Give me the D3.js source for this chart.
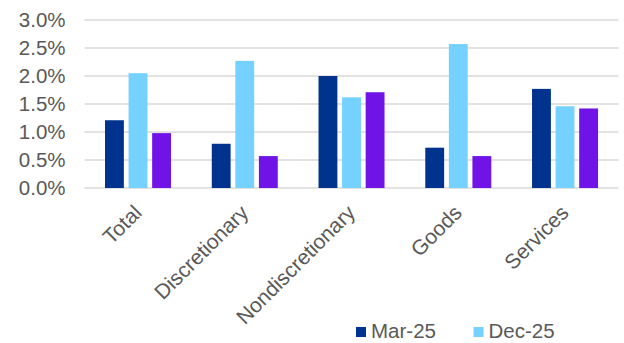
<!DOCTYPE html>
<html>
<head>
<meta charset="utf-8">
<script src="https://cdn.jsdelivr.net/npm/d3@7"></script>
<style>
  html, body { margin: 0; padding: 0; background: #fff; }
  svg { display: block; font-family: "Liberation Sans", Arial, sans-serif; }
</style>
</head>
<body>
<svg id="chart" width="624" height="343"></svg>
<script>
// Growth by spending category
const categories = ["Total", "Discretionary", "Nondiscretionary", "Goods", "Services"];
const seriesNames = ["Mar-25", "Dec-25", "Jun-26"];
const mar25 = [1.21, 0.79, 2.00, 0.72, 1.77];
const dec25 = [2.05, 2.27, 1.62, 2.57, 1.46];
const jun26 = [0.98, 0.57, 1.71, 0.57, 1.42];
const seriesColors = ["#00338d", "#75d1ff", "#7013e6"];
const yTicks = [0, 0.5, 1.0, 1.5, 2.0, 2.5, 3.0];
const legendNames = ["Mar-25", "Dec-25"];

const seriesValues = [mar25, dec25, jun26];
const rows = categories.map((c, i) => ({
  category: c,
  values: seriesNames.map((s, k) => ({ series: s, value: seriesValues[k][i], color: seriesColors[k] }))
}));

const svg = d3.select("#chart");
const plot = { left: 84.6, right: 618.4, top: 20, bottom: 188 };

const x0 = d3.scaleBand().domain(categories).range([plot.left, plot.right]).paddingInner(0).paddingOuter(0);
const x1 = d3.scaleBand().domain(seriesNames).range([20.4, 86.4]).paddingInner(0.2).paddingOuter(0);
const y = d3.scaleLinear().domain([0, 3.0]).range([plot.bottom, plot.top]);

// Gridlines
svg.append("g")
  .selectAll("line")
  .data(yTicks)
  .join("line")
  .attr("x1", plot.left)
  .attr("x2", plot.right)
  .attr("y1", d => y(d))
  .attr("y2", d => y(d))
  .attr("stroke", "#d9d9d9")
  .attr("stroke-width", 1.5);

// Y axis labels
const yAxis = svg.append("g")
  .attr("transform", `translate(${plot.left - 19},0)`)
  .call(d3.axisLeft(y).tickValues(yTicks).tickSize(0).tickPadding(0).tickFormat(d => d.toFixed(1) + "%"));
yAxis.select(".domain").remove();
yAxis.selectAll("text")
  .attr("fill", "#595959")
  .style("font-size", "20.5px")
  .style("font-family", "'Liberation Sans', Arial, sans-serif");

// Bars
const groups = svg.append("g")
  .selectAll("g")
  .data(rows)
  .join("g")
  .attr("transform", d => `translate(${x0(d.category)},0)`);

groups.selectAll("rect")
  .data(d => d.values)
  .join("rect")
  .attr("x", d => x1(d.series))
  .attr("width", x1.bandwidth())
  .attr("y", d => y(d.value))
  .attr("height", d => y(0) - y(d.value))
  .attr("fill", d => d.color);

// Category labels, rotated
const xAxis = svg.append("g")
  .attr("transform", `translate(0,${plot.bottom})`)
  .call(d3.axisBottom(x0).tickSize(0).tickPadding(0));
xAxis.select(".domain").remove();
xAxis.selectAll("text")
  .attr("fill", "#595959")
  .attr("text-anchor", "end")
  .attr("dy", 0)
  .attr("y", 0)
  .attr("transform", "translate(5,26) rotate(-45)")
  .style("font-size", "21px")
  .style("font-family", "'Liberation Sans', Arial, sans-serif");

// Legend
const legend = svg.append("g")
  .selectAll("g")
  .data(legendNames)
  .join("g")
  .attr("transform", (d, i) => `translate(${356 + i * 117.5},327)`);
legend.append("rect")
  .attr("width", 10)
  .attr("height", 10)
  .attr("fill", (d, i) => seriesColors[i]);
legend.append("text")
  .attr("x", 15)
  .attr("y", 11)
  .attr("fill", "#595959")
  .style("font-size", "20.5px")
  .text(d => d);
</script>
</body>
</html>
